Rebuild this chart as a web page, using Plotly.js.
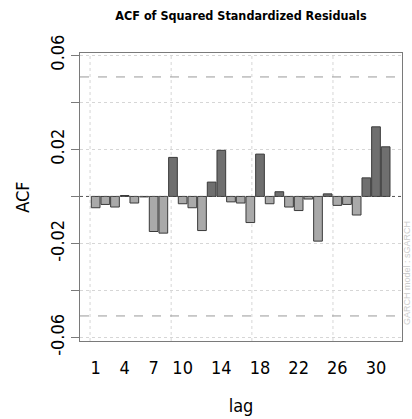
<!DOCTYPE html>
<html>
<head>
<meta charset="utf-8">
<script src="https://cdn.plot.ly/plotly-3.0.1.min.js"></script>
<style>html,body{margin:0;padding:0;background:#fff;}#chart{width:412px;height:419px;}</style>
</head>
<body>
<div id="chart"></div>
<script>
// Data
var lags = [1,2,3,4,5,6,7,8,9,10,11,12,13,14,15,16,17,18,19,20,21,22,23,24,25,26,27,28,29,30,31];
var acfValues = [-0.0048,-0.0034,-0.0045,0.0004,-0.0028,-0.0002,-0.0149,-0.0156,0.0166,-0.0031,
                 -0.0048,-0.0145,0.0061,0.0196,-0.0023,-0.0028,-0.0111,0.0180,-0.0031,0.0020,
                 -0.0045,-0.0060,-0.0011,-0.0190,0.0011,-0.0038,-0.0034,-0.0079,0.0079,0.0296,0.0211];
var confBound = 0.0508;
var xTickVals = [1,4,7,10,14,18,22,26,30];
var yTickVals = [-0.06,-0.04,-0.02,0,0.02,0.04,0.06];
var yTickText = ['-0.06','','-0.02','','0.02','','0.06'];
var xGridVals = [0.42,8.81,17.16,25.55];

var FONT = '"DejaVu Sans Condensed", "Liberation Sans Narrow", "Liberation Sans", Arial, sans-serif';

var barColors = acfValues.map(function(v){ return v >= 0 ? '#6f6f6f' : '#a9a9a9'; });

var trace = {
  type: 'bar',
  x: lags,
  y: acfValues,
  width: 0.9,
  marker: {color: barColors, line: {color: '#3a3a3a', width: 1}},
  hoverinfo: 'x+y'
};

var shapes = [];
xGridVals.forEach(function(g){
  shapes.push({type:'line', xref:'x', yref:'paper', x0:g, x1:g, y0:0, y1:1,
    line:{color:'#d6d6d6', width:1, dash:'dot'}, layer:'below'});
});
[confBound, -confBound].forEach(function(c){
  shapes.push({type:'line', xref:'paper', yref:'y', x0:0, x1:1, y0:c, y1:c,
    line:{color:'#9a9a9a', width:1, dash:'dash'}, layer:'below'});
});
shapes.push({type:'line', xref:'paper', yref:'y', x0:0, x1:1, y0:0, y1:0,
  line:{color:'#555555', width:1, dash:'dot'}, layer:'above'});

var layout = {
  width: 412, height: 419,
  margin: {l: 80, r: 10, t: 53, b: 78},
  paper_bgcolor: '#ffffff', plot_bgcolor: '#ffffff',
  showlegend: false,
  bargap: 0,
  title: {text: '<b>ACF of Squared Standardized Residuals</b>',
    font: {family: FONT, size: 12.5, color: '#000'},
    x: 0.5, xref: 'paper', y: 0.962, yref: 'container', yanchor: 'middle'},
  xaxis: {
    range: [-0.62, 32.69],
    tickmode: 'array', tickvals: xTickVals,
    ticks: 'outside', ticklen: 10, tickcolor: 'rgba(0,0,0,0)',
    tickfont: {family: FONT, size: 18, color: '#000'},
    showgrid: false, zeroline: false,
    showline: true, mirror: true, linecolor: '#7a7a7a', linewidth: 1,
    title: {text: 'lag', font: {family: FONT, size: 18, color: '#000'}, standoff: 22}
  },
  yaxis: {
    range: [-0.06145, 0.06098],
    tickmode: 'array', tickvals: yTickVals, ticktext: yTickText,
    tickangle: -90,
    ticks: 'outside', ticklen: 8, tickcolor: '#7a7a7a', tickwidth: 1,
    tickfont: {family: FONT, size: 18, color: '#000'},
    showgrid: true, gridcolor: '#d6d6d6', griddash: 'dot', gridwidth: 1,
    zeroline: false,
    showline: true, mirror: true, linecolor: '#7a7a7a', linewidth: 1,
    title: {text: 'ACF', font: {family: FONT, size: 18, color: '#000'}, standoff: 12}
  },
  shapes: shapes,
  annotations: [{
    text: 'GARCH model : sGARCH', textangle: -90,
    xref: 'paper', yref: 'paper', x: 1.0155, y: 0.236,
    xanchor: 'center', yanchor: 'middle', showarrow: false,
    font: {family: '"Liberation Sans", Arial, sans-serif', size: 9, color: '#cccccc'}
  }]
};

Plotly.newPlot('chart', [trace], layout, {displayModeBar: false, staticPlot: true});
</script>
</body>
</html>
